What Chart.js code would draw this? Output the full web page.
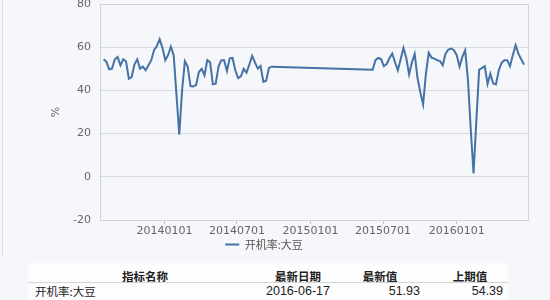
<!DOCTYPE html>
<html>
<head>
<meta charset="utf-8">
<script src="https://cdn.jsdelivr.net/npm/chart.js@4.4.0/dist/chart.umd.min.js"></script>
<style>
  body { margin: 0; background: #f5f7fa; width: 550px; height: 300px; overflow: hidden; position: relative; }
  #c { position: absolute; left: 0; top: 0; }
  .edge { position: absolute; left: 2px; top: 0; height: 256px; border-left: 1px solid #dcdfe3; }
  .band { position: absolute; left: 28px; width: 480px; background: #fdfdfe; }
  .sep { position: absolute; left: 28px; width: 480px; top: 282px; height: 1px; background: #d4d6da; }
  .t { position: absolute; line-height: 14px; color: #222; white-space: nowrap; }
  .h { font-family: "Noto Sans CJK SC"; font-size: 11.5px; font-weight: bold; text-align: center; width: 100px; }
  .n { font-family: "Liberation Sans"; font-size: 12.5px; }
</style>
</head>
<body>
<canvas id="c" width="550" height="260"></canvas>
<div class="edge"></div>
<div class="band" style="top:263px;height:19px"></div>
<div class="band" style="top:283px;height:17px"></div>
<div class="sep"></div>
<div class="t h" style="left:95px;top:269px">指标名称</div>
<div class="t h" style="left:248px;top:269px">最新日期</div>
<div class="t h" style="left:330px;top:269px">最新值</div>
<div class="t h" style="left:420px;top:269px">上期值</div>
<div class="t" style="left:35px;top:284px;font-family:'Noto Sans CJK SC';font-size:11.5px">开机率:大豆</div>
<div class="t n" style="left:248px;top:284px;width:100px;text-align:center">2016-06-17</div>
<div class="t n" style="left:320px;top:284px;width:100px;text-align:right">51.93</div>
<div class="t n" style="left:403px;top:284px;width:100px;text-align:right">54.39</div>
<script>
// weekly readings, two stretches with no data between them
const start1 = [2013, 8, 2];
const values1 = [54.4, 53.2, 49.8, 50.1, 54.4, 55.5, 51.6, 54.4, 53.5, 45.4,
  46.2, 52, 54.4, 50.1, 51, 49.3, 51.6, 54, 58.6, 60.5,
  63.7, 59.7, 54, 56.3, 60.2, 56.3, 38, 19.5, 40, 53.5,
  51, 42, 41.8, 42.5, 48.5, 50, 47, 54, 53, 42.8,
  43.1, 51, 54, 54, 49, 54.8, 55, 49.3, 45.7, 46.5,
  50, 48.2, 52, 56, 53, 50.1, 51.3, 44, 44.5, 50.4, 51];
const start2 = [2015, 6, 5];
const values2 = [49.6, 54, 55, 54.5, 51.2, 52.2, 55, 57, 53, 49.3,
  54.5, 59.7, 55, 47.4, 53, 56.8, 45.8, 39.2, 33.5, 47.7,
  57.4, 55.2, 54.7, 54, 53.6, 51.6, 57, 58.9, 59.4, 58.6,
  56.3, 51, 55.5, 58.6, 45, 22, 1.5, 26, 49.6, 50.3,
  51.2, 43, 47.7, 43.2, 42.8, 49.3, 52.8, 54, 54, 51.2,
  56.3, 60.9, 57, 54.39, 51.93];
const xTicks = ['20140101', '20140701', '20150101', '20150701', '20160101'];
const yTicks = [-20, 0, 20, 40, 60, 80];
const seriesName = '开机率:大豆';

const DAY = 86400000;
const ms = (y, m, d) => Date.UTC(y, m - 1, d);
const fromCode = s => ms(+s.slice(0, 4), +s.slice(4, 6), +s.slice(6, 8));
const toCode = v => {
  const d = new Date(v);
  return d.getUTCFullYear() + String(d.getUTCMonth() + 1).padStart(2, '0') + String(d.getUTCDate()).padStart(2, '0');
};
const weekly = (st, vals) => vals.map((v, i) => ({ x: ms(...st) + i * 7 * DAY, y: v }));
const points = weekly(start1, values1).concat(weekly(start2, values2));

const frame = {
  id: 'frame',
  beforeDatasetsDraw(chart) {
    const a = chart.chartArea, ctx = chart.ctx;
    ctx.save();
    ctx.strokeStyle = '#d0d3d8';
    ctx.lineWidth = 1;
    ctx.strokeRect(Math.round(a.left) + 0.5, Math.round(a.top) + 0.5, Math.round(a.right - a.left), Math.round(a.bottom - a.top));
    ctx.restore();
  }
};

const axisFont = { family: 'DejaVu Sans', size: 11 };

new Chart(document.getElementById('c'), {
  type: 'line',
  data: {
    datasets: [{
      label: seriesName,
      data: points,
      borderColor: '#4572a7',
      backgroundColor: '#4572a7',
      borderWidth: 2,
      pointRadius: 0,
      tension: 0,
      fill: false
    }]
  },
  options: {
    responsive: false,
    animation: false,
    layout: { padding: { top: 4, right: 22, left: 0, bottom: 0 } },
    scales: {
      x: {
        type: 'linear',
        min: ms(2013, 7, 24),
        max: ms(2016, 6, 27),
        afterBuildTicks: s => { s.ticks = xTicks.map(t => ({ value: fromCode(t) })); },
        afterFit: s => { s.height = 15; },
        ticks: { callback: v => toCode(v), font: axisFont, color: '#666', padding: 1, maxRotation: 0, autoSkip: false },
        grid: { drawOnChartArea: false, tickLength: 4, color: '#c0c4ca' },
        border: { color: '#c0c4ca' }
      },
      y: {
        min: -20,
        max: 80,
        afterBuildTicks: s => { s.ticks = yTicks.map(v => ({ value: v })); },
        afterFit: s => { s.width = 100; s.paddingTop = 0; s.paddingBottom = 0; },
        ticks: { font: axisFont, color: '#666', padding: 9 },
        grid: { color: '#d8dbe0', drawTicks: false },
        border: { display: false },
        title: { display: true, text: '%', font: axisFont, color: '#666', padding: { top: 50, bottom: 0 } }
      }
    },
    plugins: {
      legend: {
        position: 'bottom',
        labels: {
          usePointStyle: true,
          pointStyle: 'line',
          pointStyleWidth: 14,
          padding: 4,
          color: '#555',
          font: { family: 'Noto Sans CJK SC', size: 11 }
        }
      },
      tooltip: { enabled: false }
    }
  },
  plugins: [frame]
});
</script>
</body>
</html>
